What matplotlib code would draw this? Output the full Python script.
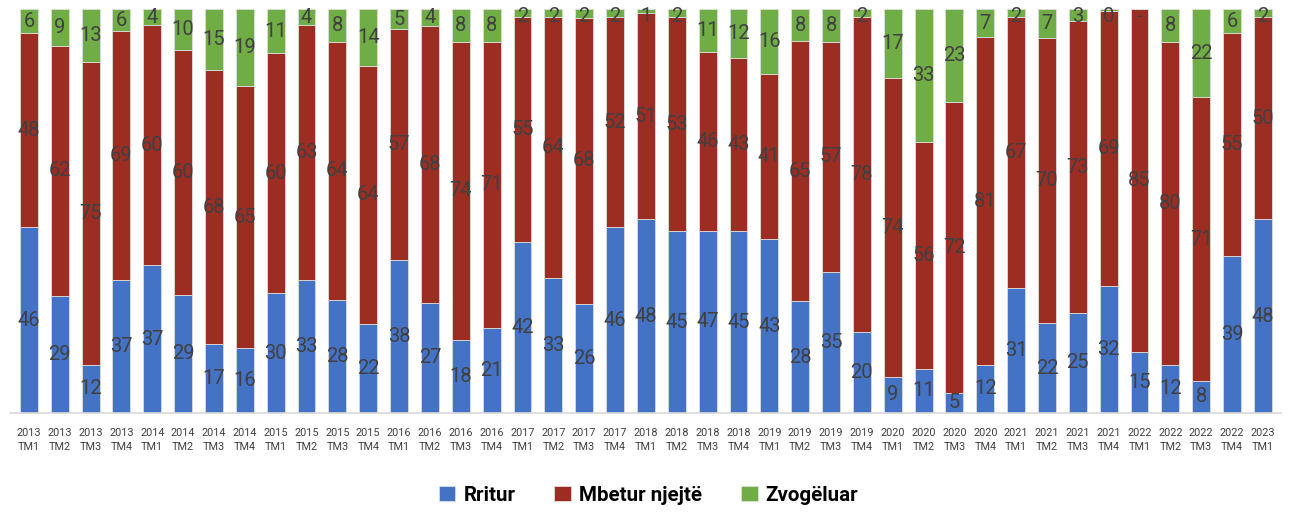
import numpy as np
import matplotlib.pyplot as plt

plt.rcParams['font.family'] = ['Roboto', 'DejaVu Sans']

years = [2013]*4 + [2014]*4 + [2015]*4 + [2016]*4 + [2017]*4 + [2018]*4 + \
        [2019]*4 + [2020]*4 + [2021]*4 + [2022]*4 + [2023]
quarters = ['TM1', 'TM2', 'TM3', 'TM4'] * 10 + ['TM1']
labels = ['%d\n%s' % (y, q) for y, q in zip(years, quarters)]

rritur = [46, 29, 12, 37, 37, 29, 17, 16, 30, 33, 28, 22, 38, 27, 18, 21,
          42, 33, 26, 46, 48, 45, 47, 45, 43, 28, 35, 20, 9, 11, 5, 12,
          31, 22, 25, 32, 15, 12, 8, 39, 48]
mbetur = [48, 62, 75, 69, 60, 60, 68, 65, 60, 63, 64, 64, 57, 68, 74, 71,
          55, 64, 68, 52, 51, 53, 46, 43, 41, 65, 57, 78, 74, 56, 72, 81,
          67, 70, 73, 69, 85, 80, 71, 55, 50]
zvogeluar = [6, 9, 13, 6, 4, 10, 15, 19, 11, 4, 8, 14, 5, 4, 8, 8,
             2, 2, 2, 2, 1, 2, 11, 12, 16, 8, 8, 2, 17, 33, 23, 7,
             2, 7, 3, 0.4, 0, 8, 22, 6, 2]

series = [('Rritur', rritur, '#4472C4'),
          ('Mbetur njejtë', mbetur, '#9C2D23'),
          ('Zvogëluar', zvogeluar, '#70AD47')]

tot = np.array(rritur) + np.array(mbetur) + np.array(zvogeluar)
x = np.arange(len(labels))

fig = plt.figure(figsize=(12.97, 5.13), dpi=100)
ax = fig.add_axes([0.008, 0.195, 0.98, 0.787])

bottom = np.zeros(len(x))
for name, vals, col in series:
    v = np.array(vals, dtype=float)
    h = v / tot * 100
    ax.bar(x, h, 0.58, bottom=bottom, color=col, edgecolor='#DDDDDD',
           linewidth=0.6, label=name)
    for xi, b, hh, vv in zip(x, bottom, h, v):
        # zero shown as a dash, like the source sheet
        txt = '-' if vv == 0 else '%.0f' % vv
        yy = min(b + hh / 2, 98.2)
        ax.text(xi, yy, txt, ha='center', va='center', fontsize=14.5,
                color='#404040')
    bottom += h

ax.set_xlim(-0.6, len(x) - 0.4)
ax.set_ylim(0, 100)
ax.set_yticks([])
ax.set_xticks(x)
ax.set_xticklabels(labels, fontsize=7.8, color='#404040', linespacing=1.5)
ax.tick_params(axis='x', length=0, pad=11)
for s in ['top', 'right', 'left']:
    ax.spines[s].set_visible(False)
ax.spines['bottom'].set_color('#D9D9D9')
ax.spines['bottom'].set_linewidth(1.2)

leg = fig.legend(loc='center', bbox_to_anchor=(0.5, 0.035), ncol=3,
                 frameon=False, prop={'weight': 'bold', 'size': 14.8},
                 handlelength=0.8, handleheight=0.8, columnspacing=1.9,
                 handletextpad=0.4)

fig.savefig('out.png', dpi=100)
